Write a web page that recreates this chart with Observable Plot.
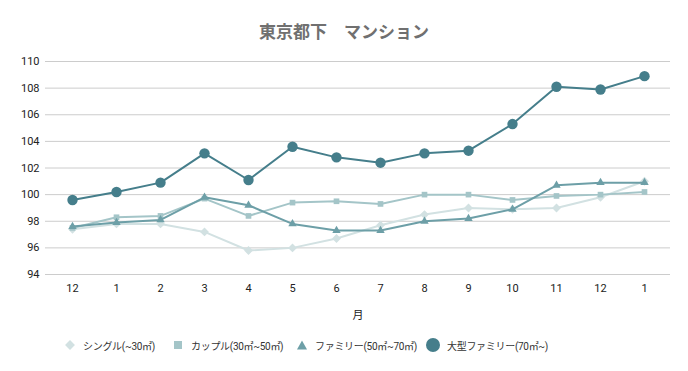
<!DOCTYPE html>
<html>
<head>
<meta charset="utf-8">
<script src="https://cdn.jsdelivr.net/npm/d3@7"></script>
<script src="https://cdn.jsdelivr.net/npm/@observablehq/plot@0.6"></script>
<style>
  html, body { margin: 0; padding: 0; background: #fff; }
  #wrap { width: 688px; height: 371px; position: relative; font-family: Roboto, "Noto Sans CJK JP", sans-serif; }
  #title { position: absolute; top: 18px; left: 0; width: 688px; text-align: center; font-family: "Noto Sans CJK JP", sans-serif; font-weight: bold; font-size: 17px; color: #707070; line-height: 26px; white-space: pre; }
  #chart { position: absolute; top: 50px; left: 0; }
  #legend { position: absolute; top: 337px; left: 0; width: 688px; height: 20px; font-size: 10px; color: #333; font-family: Roboto, "Noto Sans CJK JP", sans-serif; }
  .item { position: absolute; top: 0; display: flex; align-items: center; height: 16px; white-space: nowrap; }
  .item svg { margin-right: 7px; }
  .item span { letter-spacing: -0.3px; }
</style>
</head>
<body>
<div id="wrap">
  <div id="title">東京都下　マンション</div>
  <div id="chart"></div>
  <div id="legend"></div>
</div>
<script>
const months = ["12","1","2","3","4","5","6","7","8","9","10","11","12","1"];
const seriesNames = ["シングル(~30㎡)", "カップル(30㎡~50㎡)", "ファミリー(50㎡~70㎡)", "大型ファミリー(70㎡~)"];
const single = [97.4, 97.8, 97.8, 97.2, 95.8, 96.0, 96.7, 97.7, 98.5, 99.0, 98.9, 99.0, 99.8, 101.0];
const couple = [97.5, 98.3, 98.4, 99.7, 98.4, 99.4, 99.5, 99.3, 100.0, 100.0, 99.6, 99.9, 100.0, 100.2];
const family = [97.6, 97.9, 98.1, 99.8, 99.2, 97.8, 97.3, 97.3, 98.0, 98.2, 98.9, 100.7, 100.9, 100.9];
const largeFamily = [99.6, 100.2, 100.9, 103.1, 101.1, 103.6, 102.8, 102.4, 103.1, 103.3, 105.3, 108.1, 107.9, 108.9];
const yTicks = [94, 96, 98, 100, 102, 104, 106, 108, 110];

const colors = ["#d2e1e2", "#a4c5c8", "#6d9fa7", "#457e8b"];
const symbols = ["diamond2", "square2", "triangle2", "circle"];
const radii = [4, 3.6, 4, 5.2];
const allSeries = [single, couple, family, largeFamily];

const marks = [
  Plot.ruleY(yTicks, {stroke: "#cccccc", strokeWidth: 1})
];
allSeries.forEach((vals, s) => {
  const data = vals.map((v, i) => ({i, v}));
  marks.push(Plot.line(data, {x: "i", y: "v", stroke: colors[s], strokeWidth: 2}));
  marks.push(Plot.dot(data, {x: "i", y: "v", fill: colors[s], symbol: () => symbols[s], r: radii[s], stroke: "none"}));
});

const chart = Plot.plot({
  width: 688,
  height: 280,
  marginLeft: 45,
  marginRight: 18,
  marginTop: 11,
  marginBottom: 56,
  style: {fontFamily: "Roboto, sans-serif", fontSize: "11px", color: "#222", background: "#fff"},
  x: {type: "point", domain: months.map((_, i) => i), range: [68, 647], padding: 0, tickFormat: i => months[i], tickSize: 0, tickPadding: 10, label: "月", labelAnchor: "center", labelArrow: "none", labelOffset: 44},
  y: {domain: [94, 110], ticks: yTicks, tickSize: 0, tickPadding: 6, label: null},
  symbol: {type: "identity"},
  marks
});
document.getElementById("chart").appendChild(chart);
chart.querySelectorAll("g[aria-label='x-axis label'] text").forEach(t => t.setAttribute("font-family", "Noto Sans CJK JP, sans-serif"));

// legend
const legend = document.getElementById("legend");
const legendLeft = [64, 172, 296, 426];
const symPaths = [
  '<rect x="2.5" y="2.5" width="7" height="7" transform="rotate(45 6 6)" />',
  '<rect x="2" y="2" width="8" height="8" />',
  '<polygon points="6,1.5 11,10.5 1,10.5" />',
  '<circle cx="6" cy="6" r="6" />'
];
seriesNames.forEach((name, s) => {
  const it = document.createElement("div");
  it.className = "item";
  it.style.left = legendLeft[s] + "px";
  const size = s === 3 ? 14 : 12;
  it.innerHTML = `<svg width="${size}" height="${size}" viewBox="0 0 12 12" fill="${colors[s]}">${symPaths[s]}</svg><span>${name}</span>`;
  legend.appendChild(it);
});
</script>
</body>
</html>
